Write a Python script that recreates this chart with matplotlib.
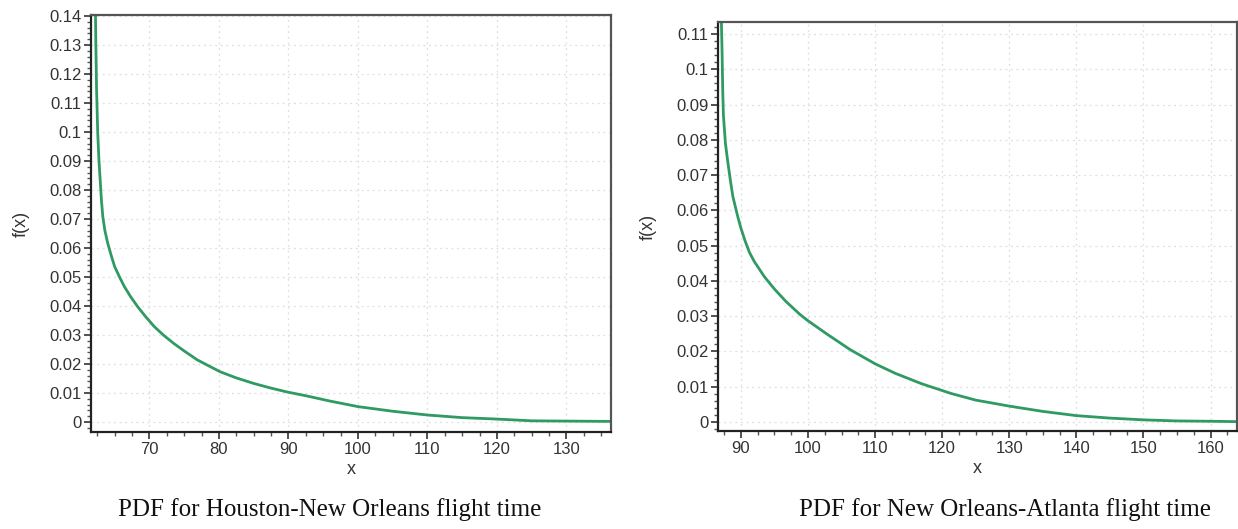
import matplotlib
matplotlib.use("Agg")
import matplotlib.pyplot as plt
from matplotlib.ticker import MultipleLocator, FuncFormatter

# Houston-New Orleans PDF
x_hn = [62.2, 62.25, 62.3, 62.4, 62.57, 62.75, 62.95, 63.1, 63.3, 63.6, 64.0,
        64.5, 65.0, 65.7, 66.4, 67.3, 68.3, 69.5, 70.7, 72.0, 73.5, 75.0,
        76.9, 78.5, 80.2, 82.5, 85.0, 87.3, 89.7, 92.6, 96.0, 100, 105, 110,
        115, 120, 125, 130, 136.4]
y_hn = [0.16, 0.14, 0.13, 0.115, 0.0995, 0.090, 0.0824, 0.0765, 0.0708,
        0.0660, 0.0617, 0.0575, 0.0536, 0.0500, 0.0467, 0.0432, 0.0398,
        0.0362, 0.0329, 0.0300, 0.0271, 0.0245, 0.0214, 0.0194, 0.0173,
        0.0152, 0.0133, 0.0118, 0.0104, 0.0090, 0.0072, 0.0053, 0.0037,
        0.0024, 0.0015, 0.0010, 0.0004, 0.0003, 0.0002]

# New Orleans-Atlanta PDF
x_na = [87.0, 87.1, 87.2, 87.3, 87.4, 87.55, 87.7, 88.0, 88.4, 88.8, 89.5,
        90.0, 90.6, 91.3, 92.0, 93.5, 95.0, 96.7, 98.8, 100, 103, 106.3, 110,
        113, 117, 121.3, 125, 130, 135, 140, 145, 150, 155, 160, 163.9]
y_na = [0.13, 0.1134, 0.105, 0.094, 0.087, 0.083, 0.079, 0.0745, 0.0690,
        0.0640, 0.0585, 0.0550, 0.0515, 0.0480, 0.0455, 0.0412, 0.0377,
        0.0342, 0.0305, 0.0287, 0.0247, 0.0205, 0.0165, 0.0138, 0.0108,
        0.0081, 0.0062, 0.0045, 0.0030, 0.0018, 0.0011, 0.0006, 0.0003,
        0.0002, 0.0001]

captions = ["PDF for Houston-New Orleans flight time",
            "PDF for New Orleans-Atlanta flight time"]

fig = plt.figure(figsize=(12.38, 5.29), dpi=100)

green = "#2f9a62"
tick_col = "#333333"

def fmt(v, pos):
    s = ("%.2f" % v).rstrip("0").rstrip(".")
    if s in ("-0", ""):
        s = "0"
    return s

def style(ax, xlim, ylim, ymaj, ymin):
    ax.set_xlim(*xlim)
    ax.set_ylim(*ylim)
    ax.xaxis.set_major_locator(MultipleLocator(10))
    ax.xaxis.set_minor_locator(MultipleLocator(2.5))
    ax.yaxis.set_major_locator(MultipleLocator(ymaj))
    ax.yaxis.set_minor_locator(MultipleLocator(ymin))
    ax.yaxis.set_major_formatter(FuncFormatter(fmt))
    ax.grid(True, which="major", color="#dedede", linestyle=(0, (1.5, 3)), linewidth=0.9)
    ax.set_axisbelow(True)
    for sp in ax.spines.values():
        sp.set_color("#222222")
        sp.set_linewidth(1.6)
    ax.spines["top"].set_color("#555555")
    ax.spines["right"].set_color("#555555")
    ax.tick_params(which="major", length=5, width=1.2, color="#333333",
                   labelsize=12, labelcolor=tick_col, pad=2)
    ax.tick_params(which="minor", length=3, width=1.0, color="#555555")
    for lab in ax.get_xticklabels() + ax.get_yticklabels():
        lab.set_fontfamily("Liberation Sans")
    ax.set_xlabel("x", fontsize=13, color=tick_col, family="Liberation Sans", labelpad=3)
    ax.set_ylabel("f(x)", fontsize=13, color=tick_col, family="Liberation Sans", labelpad=14)

ax1 = fig.add_axes([0.0735, 0.1834, 0.42, 0.7882])
ax1.plot(x_hn, y_hn, color=green, linewidth=2.0, clip_on=True)
style(ax1, (61.6, 136.4), (-0.00345, 0.14034), 0.01, 0.002)

ax2 = fig.add_axes([0.58, 0.1853, 0.419, 0.7731])
ax2.plot(x_na, y_na, color=green, linewidth=2.0, clip_on=True)
style(ax2, (86.6, 163.9), (-0.00255, 0.1134), 0.01, 0.002)

fig.text(0.266, 0.036, captions[0], fontsize=18, family="Liberation Serif",
         ha="center", va="center", color="#111111")
fig.text(0.812, 0.036, captions[1], fontsize=18, family="Liberation Serif",
         ha="center", va="center", color="#111111")

fig.savefig("out.png", dpi=100)
